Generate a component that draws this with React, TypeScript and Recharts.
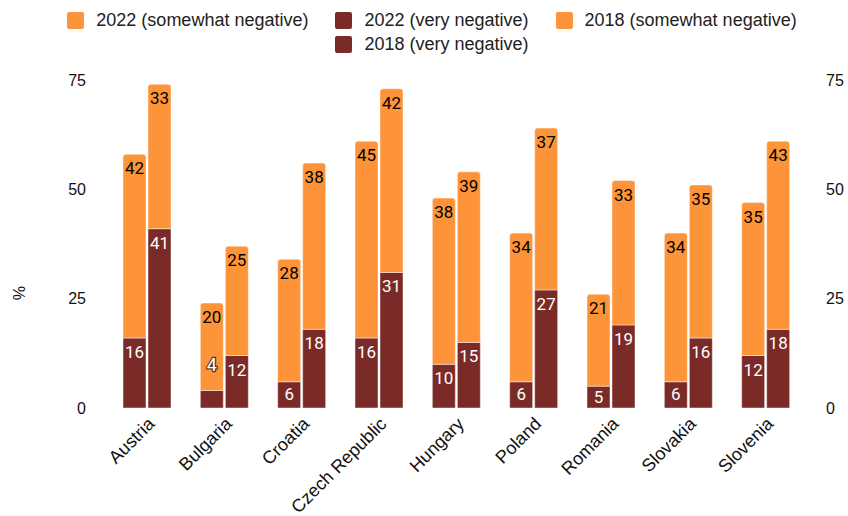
import React from 'react';
import { BarChart, Bar, XAxis, YAxis, LabelList, Label } from 'recharts';

const countries = [
  'Austria',
  'Bulgaria',
  'Croatia',
  'Czech Republic',
  'Hungary',
  'Poland',
  'Romania',
  'Slovakia',
  'Slovenia',
];

const veryNeg2022 = [16, 4, 6, 16, 10, 6, 5, 6, 12];
const somewhatNeg2022 = [42, 20, 28, 45, 38, 34, 21, 34, 35];
const veryNeg2018 = [41, 12, 18, 31, 15, 27, 19, 16, 18];
const somewhatNeg2018 = [33, 25, 38, 42, 39, 37, 33, 35, 43];

const yTicks = [0, 25, 50, 75];

const ORANGE = '#fd9439';
const DARK = '#7b2b27';

const data = countries.map((country, i) => ({
  country,
  v2022: veryNeg2022[i],
  s2022: somewhatNeg2022[i],
  v2018: veryNeg2018[i],
  s2018: somewhatNeg2018[i],
}));

const legendItems = [
  { label: '2022 (somewhat negative)', color: ORANGE },
  { label: '2022 (very negative)', color: DARK },
  { label: '2018 (somewhat negative)', color: ORANGE },
  { label: '2018 (very negative)', color: DARK },
];

const axisFont = '"Liberation Sans", Arial, sans-serif';
const valueFont = 'Roboto, "Noto Sans", sans-serif';

// value label at the top inside a segment; lifted above with an outline when the segment is too short
const makeValueLabel = (fill: string) => (props: any) => {
  const { x, y, width, height, value } = props;
  const cx = Number(x) + Number(width) / 2;
  const h = Number(height);
  if (h < 20) {
    return (
      <text
        x={cx}
        y={Number(y) - 20}
        textAnchor="middle"
        fontFamily={valueFont}
        fontSize={18}
        fill="#ffffff"
        stroke="#222"
        strokeWidth={2.5}
        strokeOpacity={0.8}
        paintOrder="stroke"
      >
        {value}
      </text>
    );
  }
  const pad = Math.min(8, Math.max(3, (h - 13) / 2));
  return (
    <text
      x={cx}
      y={Number(y) + pad}
      dy="0.71em"
      textAnchor="middle"
      fontFamily={valueFont}
      fontSize={17}
      fill={fill}
    >
      {value}
    </text>
  );
};

const renderUnitLabel = (props: any) => {
  const vb = props.viewBox || {};
  const x = vb.x + 19;
  const y = vb.y + vb.height / 2 + 49;
  return (
    <text
      x={x}
      y={y}
      transform={`rotate(-90, ${x}, ${y})`}
      textAnchor="middle"
      dominantBaseline="central"
      fontFamily={axisFont}
      fontSize={16}
      fill="#111"
    >
      %
    </text>
  );
};

const ChartLegend = () => (
  <div
    style={{
      position: 'absolute',
      left: 52,
      top: 8,
      width: 760,
      display: 'flex',
      flexWrap: 'wrap',
      justifyContent: 'center',
      columnGap: 27,
      fontFamily: axisFont,
      fontSize: 18,
      lineHeight: '24px',
      color: '#222',
    }}
  >
    {legendItems.map((item) => (
      <div key={item.label} style={{ display: 'flex', alignItems: 'center' }}>
        <span
          style={{
            display: 'inline-block',
            width: 17,
            height: 17,
            borderRadius: 2,
            background: item.color,
            marginRight: 12,
          }}
        />
        <span>{item.label}</span>
      </div>
    ))}
  </div>
);

export default function App() {
  const tickStyle = { fontFamily: axisFont, fontSize: 16, fill: '#111' };
  return (
    <div style={{ position: 'absolute', left: 0, top: 0, width: 848, height: 516, background: '#fff' }}>
      <ChartLegend />
      <BarChart
        width={848}
        height={516}
        data={data}
        margin={{ top: 80, right: 0, bottom: 8, left: 0 }}
        barSize={23}
        barGap={2}
      >
        <XAxis
          dataKey="country"
          axisLine={false}
          tickLine={false}
          interval={0}
          height={100}
          angle={-45}
          tick={{ fontFamily: axisFont, fontSize: 18, fill: '#111', textAnchor: 'end' }}
        />
        <YAxis
          yAxisId="left"
          width={108}
          domain={[0, 75]}
          ticks={yTicks}
          axisLine={false}
          tickLine={false}
          tickMargin={16}
          tick={tickStyle}
        >
          <Label content={renderUnitLabel} />
        </YAxis>
        <YAxis
          yAxisId="right"
          orientation="right"
          width={44}
          domain={[0, 75]}
          ticks={yTicks}
          axisLine={false}
          tickLine={false}
          tickMargin={16}
          tick={{ ...tickStyle, textAnchor: 'start' }}
        />
        <Bar yAxisId="left" dataKey="v2022" stackId="a" fill={DARK} stroke="#fff" strokeOpacity={0.45} isAnimationActive={false}>
          <LabelList dataKey="v2022" content={makeValueLabel('#fff')} />
        </Bar>
        <Bar yAxisId="left" dataKey="s2022" stackId="a" fill={ORANGE} stroke="#fff" strokeOpacity={0.45} radius={[3, 3, 0, 0]} isAnimationActive={false}>
          <LabelList dataKey="s2022" content={makeValueLabel('#000')} />
        </Bar>
        <Bar yAxisId="right" dataKey="v2018" stackId="b" fill={DARK} stroke="#fff" strokeOpacity={0.45} isAnimationActive={false}>
          <LabelList dataKey="v2018" content={makeValueLabel('#fff')} />
        </Bar>
        <Bar yAxisId="right" dataKey="s2018" stackId="b" fill={ORANGE} stroke="#fff" strokeOpacity={0.45} radius={[3, 3, 0, 0]} isAnimationActive={false}>
          <LabelList dataKey="s2018" content={makeValueLabel('#000')} />
        </Bar>
      </BarChart>
    </div>
  );
}
